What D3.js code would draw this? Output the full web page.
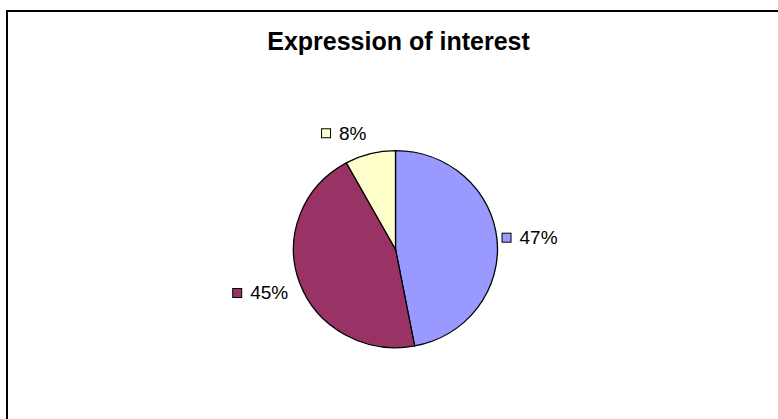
<!DOCTYPE html>
<html>
<head>
    <title>Expression of interest</title>
    <script src="https://d3js.org/d3.v7.min.js"></script>
    <style>
        body { margin: 0; background: #fff; }
        text { font-family: "Liberation Sans", Arial, sans-serif; fill: #000; }
    </style>
</head>
<body>
    <div id="chart"></div>
    <script>
        // data
        const categories = ["A", "B", "C"];
        const values = [47, 45, 8];
        const labels = ["47%", "45%", "8%"];
        const colors = ["#9999FF", "#993366", "#FFFFCC"];

        const width = 778, height = 419;
        const cx = 395.5, cy = 249.2;
        const rx = 102, ry = 98.5;

        const svg = d3.select("#chart").append("svg")
            .attr("width", width)
            .attr("height", height);

        // chart area border (runs off the right and bottom edges)
        svg.append("rect")
            .attr("x", 7).attr("y", 11)
            .attr("width", 800).attr("height", 440)
            .attr("fill", "#fff")
            .attr("stroke", "#000")
            .attr("stroke-width", 2);

        svg.append("text")
            .attr("x", 398.5).attr("y", 50)
            .attr("text-anchor", "middle")
            .attr("font-size", 25)
            .attr("font-weight", "bold")
            .text("Expression of interest");

        const pie = d3.pie().sort(null).value(d => d);
        const arcs = pie(values);
        const arc = d3.arc().innerRadius(0).outerRadius(rx);

        const g = svg.append("g")
            .attr("transform", `translate(${cx},${cy}) scale(1,${ry / rx})`);

        g.selectAll("path")
            .data(arcs)
            .join("path")
            .attr("d", arc)
            .attr("fill", (d, i) => colors[i])
            .attr("stroke", "#000")
            .attr("stroke-width", 1.3)
            .attr("vector-effect", "non-scaling-stroke");

        // labels: a small key box plus the percentage, placed outside the pie
        const clamp = v => Math.max(-1, Math.min(1, v));
        const boxSize = 9, gap = 9, fontSize = 19;
        const labelR = [106.5, 114, 117];

        arcs.forEach((d, i) => {
            const mid = (d.startAngle + d.endAngle) / 2;
            const s = Math.sin(mid), c = Math.cos(mid);
            const px = cx + labelR[i] * s;
            const py = cy - labelR[i] * c * (ry / rx);

            const lg = svg.append("g");
            const t = lg.append("text")
                .attr("font-size", fontSize)
                .text(labels[i]);
            const tw = t.node().getComputedTextLength();
            const w = boxSize + gap + tw;
            const h = 13;

            const left = px - w * (1 - clamp(s * 4)) / 2;
            const midY = py - (h / 2) * clamp(c * 3);

            lg.insert("rect", "text")
                .attr("x", left + 0.5)
                .attr("y", midY - boxSize / 2)
                .attr("width", boxSize)
                .attr("height", boxSize)
                .attr("fill", colors[i])
                .attr("stroke", "#000")
                .attr("stroke-width", 1);

            t.attr("x", left + boxSize + gap)
                .attr("y", midY + 6.5);
        });
    </script>
</body>
</html>
